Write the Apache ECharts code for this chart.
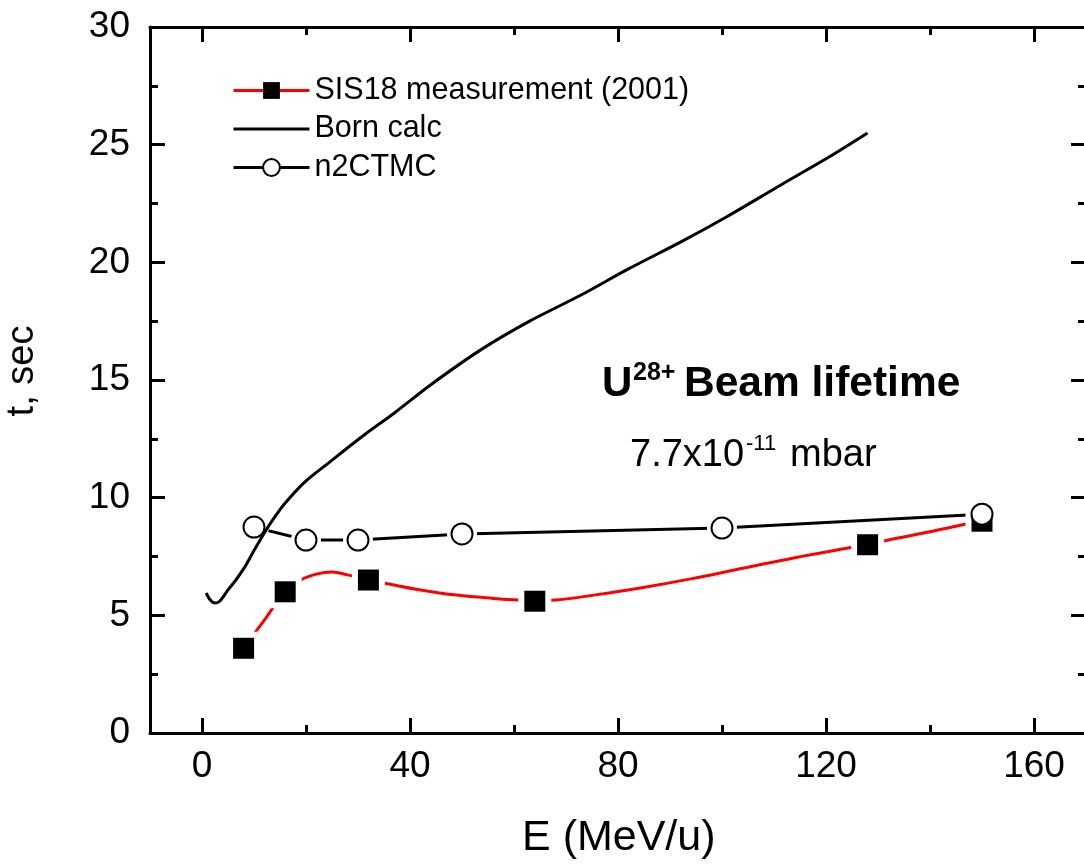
<!DOCTYPE html>
<html><head><meta charset="utf-8">
<script src="https://cdn.jsdelivr.net/npm/echarts@6/dist/echarts.min.js"></script>
<style>html,body{margin:0;padding:0;background:#fff}#c{width:1084px;height:865px}</style>
</head><body><div id="c"></div>
<script>
// ---- data ----
const xMajorTicks = [0, 40, 80, 120, 160];
const xMinorTicks = [20, 60, 100, 140];
// SIS18 measurement (2001): measured points
const sisE = [8, 16, 32, 64, 128, 150];
const sisT = [3.6, 6.0, 6.5, 5.6, 8.0, 9.0];
// SIS18 fitted curve
const sisCurveE = [8, 12, 16, 19, 22, 25, 28, 32, 36, 42, 49, 56, 61, 64, 68, 76, 84, 94, 104, 114, 124, 128, 132, 140, 147, 150];
const sisCurveT = [3.6, 4.8, 6.0, 6.5, 6.75, 6.84, 6.72, 6.5, 6.33, 6.08, 5.86, 5.72, 5.65, 5.62, 5.65, 5.88, 6.15, 6.55, 7.0, 7.45, 7.85, 8.0, 8.2, 8.55, 8.88, 9.0];
// Born calc
const bornE = [0.8, 1.6, 2.5, 3.5, 5, 6.5, 8.3, 10, 12.1, 14, 16, 19.8, 24.3, 30.8, 37, 44, 53.6, 63, 72.8, 82, 92.1, 101, 111.4, 120, 128];
const bornT = [5.95, 5.65, 5.52, 5.62, 6.08, 6.5, 7.08, 7.75, 8.54, 9.18, 9.77, 10.67, 11.47, 12.6, 13.6, 14.8, 16.28, 17.5, 18.6, 19.72, 20.87, 21.95, 23.3, 24.4, 25.5];
// n2CTMC
const ctmcE = [10, 20, 30, 50, 100, 150];
const ctmcT = [8.75, 8.2, 8.2, 8.46, 8.71, 9.3];

const NAME_SIS = 'SIS18 measurement (2001)';
const NAME_BORN = 'Born calc';
const NAME_CTMC = 'n2CTMC';

const zip = (a, b) => a.map((v, i) => [v, b[i]]);
const FONT = '"Liberation Sans", Arial, sans-serif';

const chart = echarts.init(document.getElementById('c'), null, {renderer: 'canvas'});

const baseX = {type: 'value', min: -10, max: 170, gridIndex: 0, splitLine: {show: false}};
const axLine = {show: true, onZero: false, lineStyle: {color: '#000', width: 3}};
const noLine = {show: false, onZero: false};
const tickStyle = {color: '#000', width: 3};

const option = {
  backgroundColor: '#fff',
  animation: false,
  grid: {left: 150, right: -2, top: 27, bottom: 132, containLabel: false, outerBoundsMode: 'none'},
  xAxis: [
    Object.assign({}, baseX, {position: 'bottom', axisLine: axLine,
      axisTick: {show: true, inside: true, length: 15, customValues: xMajorTicks, lineStyle: tickStyle},
      axisLabel: {show: true, customValues: xMajorTicks, margin: 15, color: '#000', fontSize: 37, fontFamily: FONT}}),
    Object.assign({}, baseX, {position: 'bottom', axisLine: noLine,
      axisTick: {show: true, inside: true, length: 8, customValues: xMinorTicks, lineStyle: tickStyle},
      axisLabel: {show: false}}),
    Object.assign({}, baseX, {position: 'top', axisLine: axLine,
      axisTick: {show: true, inside: true, length: 15, customValues: xMajorTicks, lineStyle: tickStyle},
      axisLabel: {show: false}}),
    Object.assign({}, baseX, {position: 'top', axisLine: noLine,
      axisTick: {show: true, inside: true, length: 8, customValues: xMinorTicks, lineStyle: tickStyle},
      axisLabel: {show: false}})
  ],
  yAxis: [
    {type: 'value', min: 0, max: 30, interval: 5, position: 'left', splitLine: {show: false},
      axisLine: axLine,
      axisTick: {show: true, inside: true, length: 15, lineStyle: tickStyle},
      minorTick: {show: true, splitNumber: 2, length: 8, lineStyle: tickStyle},
      minorSplitLine: {show: false},
      axisLabel: {show: true, margin: 20, color: '#000', fontSize: 37, fontFamily: FONT}},
    {type: 'value', min: 0, max: 30, interval: 5, position: 'right', splitLine: {show: false},
      axisLine: axLine,
      axisTick: {show: true, inside: true, length: 15, lineStyle: tickStyle},
      minorTick: {show: true, splitNumber: 2, length: 8, lineStyle: tickStyle},
      minorSplitLine: {show: false},
      axisLabel: {show: false}}
  ],
  legend: {
    left: 227, top: 70, orient: 'vertical', itemWidth: 76, itemHeight: 21, itemGap: 7.5,
    selectedMode: false,
    textStyle: {color: '#000', fontSize: 30.5, fontFamily: FONT, lineHeight: 30},
    data: [
      {name: NAME_SIS, lineStyle: {color: '#ff0000', width: 3, opacity: 1, type: 'solid'}},
      {name: NAME_BORN, itemStyle: {opacity: 0}, lineStyle: {color: '#000', width: 3, opacity: 1}},
      {name: NAME_CTMC, lineStyle: {color: '#000', width: 3, opacity: 1}}
    ]
  },
  series: [
    {name: 'sisCurve', type: 'line', data: zip(sisCurveE, sisCurveT), smooth: 0.4, showSymbol: false, symbol: 'none',
      lineStyle: {color: '#ff0000', width: 3}, z: 1, silent: true},
    {name: 'ctmcLine', type: 'line', data: zip(ctmcE, ctmcT), showSymbol: false, symbol: 'none',
      lineStyle: {color: '#000', width: 3}, z: 1, silent: true},
    {name: 'ctmcHalo', type: 'scatter', data: zip(ctmcE, ctmcT), symbol: 'circle', symbolSize: 30,
      itemStyle: {color: '#fff', opacity: 1}, z: 2, silent: true},
    {name: 'sisHalo', type: 'scatter', data: zip(sisE, sisT), symbol: 'rect', symbolSize: 33,
      itemStyle: {color: '#fff', opacity: 1}, z: 2, silent: true},
    {name: NAME_SIS, type: 'line', data: zip(sisE, sisT), symbol: 'rect', symbolSize: 21, showSymbol: true,
      itemStyle: {color: '#000'}, lineStyle: {color: '#ff0000', width: 3, opacity: 0}, z: 3},
    {name: NAME_CTMC, type: 'line', data: zip(ctmcE, ctmcT), symbol: 'circle', symbolSize: 21, showSymbol: true,
      itemStyle: {color: '#fff', borderColor: '#000', borderWidth: 2}, lineStyle: {color: '#000', width: 3, opacity: 0}, z: 4},
    {name: NAME_BORN, type: 'line', data: zip(bornE, bornT), smooth: 0.3, showSymbol: false, symbol: 'none',
      itemStyle: {color: '#000'}, lineStyle: {color: '#000', width: 3}, z: 5}
  ],
  graphic: [
    {type: 'text', left: 602, top: 363, style: {text: 'U', font: 'bold 42px ' + FONT, fill: '#000'}},
    {type: 'text', left: 633, top: 361, style: {text: '28+', font: 'bold 25px ' + FONT, fill: '#000'}},
    {type: 'text', left: 684, top: 363, style: {text: 'Beam lifetime', font: 'bold 42.5px ' + FONT, fill: '#000'}},
    {type: 'text', left: 630, top: 437, style: {text: '7.7x10', font: '38px ' + FONT, fill: '#000'}},
    {type: 'text', left: 746, top: 433, style: {text: '-11', font: '22px ' + FONT, fill: '#000'}},
    {type: 'text', left: 790, top: 437, style: {text: 'mbar', font: '38px ' + FONT, fill: '#000'}},
    {type: 'text', left: 522, top: 817, style: {text: 'E (MeV/u)', font: '43px ' + FONT, fill: '#000'}},
    {type: 'text', x: 42, y: 371, rotation: Math.PI / 2,
      style: {text: 't, sec', font: '38px ' + FONT, fill: '#000', align: 'center', verticalAlign: 'bottom'}}
  ]
};
chart.setOption(option);
</script>
</body></html>
